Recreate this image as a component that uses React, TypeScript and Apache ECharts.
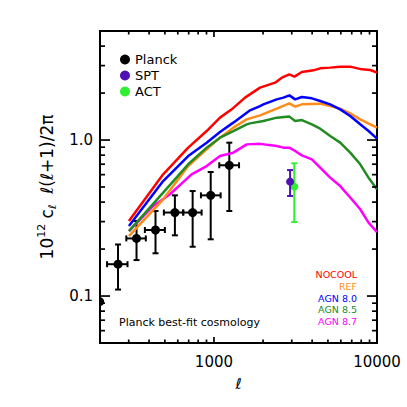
import React, { useEffect, useRef } from 'react';
import * as echarts from 'echarts';

// ---------- axis ranges and ticks ----------
const X_MIN = 200;
const X_MAX = 10000;
const Y_MIN = 0.05;
const Y_MAX = 5;
const xMajorTicks = [1000, 10000];
const xMinorTicks = [300, 400, 500, 600, 700, 800, 900, 2000, 3000, 4000, 5000, 6000, 7000, 8000, 9000];
const yMajorTicks = [0.1, 1];
const yMinorTicks = [0.06, 0.07, 0.08, 0.09, 0.2, 0.3, 0.4, 0.5, 0.6, 0.7, 0.8, 0.9, 2, 3, 4];

// ---------- model curves (legend order) ----------
const modelNames = ['NOCOOL', 'REF', 'AGN 8.0', 'AGN 8.5', 'AGN 8.7'];
const modelColors = ['#ff0000', '#ff8c1a', '#0000ff', '#228b22', '#ff00ff'];

const nocoolEll = [301, 488, 695, 902, 1089, 1285, 1551, 1917, 2371, 2607, 2902, 3116, 3460, 4077, 4482, 5163, 5946, 6850, 8086, 9097, 10000];
const nocoolVal = [0.303, 0.603, 0.894, 1.142, 1.392, 1.573, 1.87, 2.167, 2.333, 2.512, 2.637, 2.549, 2.729, 2.798, 2.882, 2.912, 2.954, 2.954, 2.839, 2.811, 2.704];

const refEll = [301, 488, 695, 902, 1089, 1314, 1589, 1917, 2428, 2902, 3146, 3460, 4482, 5163, 5946, 6850, 7889, 9097, 10000];
const refVal = [0.2425, 0.417, 0.681, 0.872, 1.036, 1.201, 1.357, 1.44, 1.589, 1.719, 1.637, 1.694, 1.711, 1.652, 1.589, 1.483, 1.357, 1.261, 1.201];

const agn80Ell = [301, 488, 695, 902, 1089, 1314, 1589, 1664, 1917, 2010, 2428, 2667, 2902, 3146, 3460, 3986, 4482, 5163, 5946, 6850, 7889, 8875, 10000];
const agn80Val = [0.281, 0.546, 0.79, 0.962, 1.125, 1.293, 1.498, 1.55, 1.652, 1.694, 1.823, 1.87, 1.934, 1.823, 1.887, 1.851, 1.778, 1.694, 1.573, 1.425, 1.261, 1.142, 1.021];

const agn85Ell = [301, 488, 695, 902, 1089, 1314, 1589, 1664, 2010, 2428, 2902, 3146, 3460, 3986, 4482, 5163, 5946, 6850, 7889, 8875, 10000];
const agn85Val = [0.261, 0.46, 0.699, 0.894, 1.036, 1.142, 1.261, 1.279, 1.324, 1.392, 1.413, 1.324, 1.343, 1.261, 1.183, 1.061, 0.962, 0.83, 0.699, 0.574, 0.483];

const agn87Ell = [301, 424, 537, 729, 902, 1089, 1314, 1589, 1917, 2428, 2667, 2902, 3146, 3460, 3986, 4482, 5163, 5946, 6850, 7889, 8875, 10000];
const agn87Val = [0.261, 0.378, 0.449, 0.603, 0.681, 0.79, 0.83, 0.938, 0.945, 0.915, 0.894, 0.894, 0.85, 0.798, 0.752, 0.665, 0.574, 0.507, 0.428, 0.36, 0.2955, 0.257];

const modelEll = [nocoolEll, refEll, agn80Ell, agn85Ell, agn87Ell];
const modelVal = [nocoolVal, refVal, agn80Val, agn85Val, agn87Val];
// drawing order (first drawn = bottom)
const drawOrder = [4, 1, 3, 2, 0];

// ---------- observations ----------
const obsNames = ['Planck', 'SPT', 'ACT'];
const obsColors = ['#000000', '#5010b4', '#30ee30'];

const planckEll = [199, 258, 335, 438, 576, 740, 955, 1242];
const planckEllLo = [199, 221, 290, 377, 493, 648, 832, 1078];
const planckEllHi = [199, 295, 382, 500, 648, 840, 1099, 1425];
const planckVal = [0.092, 0.16, 0.234, 0.265, 0.343, 0.343, 0.442, 0.689];
const planckLo = [0.092, 0.11, 0.17, 0.188, 0.245, 0.207, 0.231, 0.351];
const planckHi = [0.092, 0.214, 0.303, 0.351, 0.442, 0.471, 0.624, 0.962];

const sptEll = [2930];
const sptVal = [0.541];
const sptLo = [0.438];
const sptHi = [0.642];

const actEll = [3110];
const actVal = [0.503];
const actLo = [0.298];
const actHi = [0.709];

const noteText = 'Planck best-fit cosmology';

const FONT = 'DejaVu Sans';

function errRender(color: string, radius: number, cap: number) {
  return (_params: any, api: any) => {
    const l = api.value(0);
    const v = api.value(1);
    const lLo = api.value(2);
    const lHi = api.value(3);
    const vLo = api.value(4);
    const vHi = api.value(5);
    const c = api.coord([l, v]);
    const st = { stroke: color, lineWidth: 2 };
    const children: any[] = [];
    if (vHi !== vLo) {
      const t = api.coord([l, vHi]);
      const b = api.coord([l, vLo]);
      children.push({ type: 'line', shape: { x1: c[0], y1: t[1], x2: c[0], y2: b[1] }, style: st });
      children.push({ type: 'line', shape: { x1: c[0] - cap, y1: t[1], x2: c[0] + cap, y2: t[1] }, style: st });
      children.push({ type: 'line', shape: { x1: c[0] - cap, y1: b[1], x2: c[0] + cap, y2: b[1] }, style: st });
    }
    if (lHi !== lLo) {
      const a = api.coord([lLo, v]);
      const d = api.coord([lHi, v]);
      children.push({ type: 'line', shape: { x1: a[0], y1: c[1], x2: d[0], y2: c[1] }, style: st });
      children.push({ type: 'line', shape: { x1: a[0], y1: c[1] - cap, x2: a[0], y2: c[1] + cap }, style: st });
      children.push({ type: 'line', shape: { x1: d[0], y1: c[1] - cap, x2: d[0], y2: c[1] + cap }, style: st });
    }
    children.push({ type: 'circle', shape: { cx: c[0], cy: c[1], r: radius }, style: { fill: color } });
    return { type: 'group', children };
  };
}

function obsData(ell: number[], lo: number[] | null, hi: number[] | null, val: number[], vLo: number[], vHi: number[]) {
  return ell.map((l, i) => [l, val[i], lo ? lo[i] : l, hi ? hi[i] : l, vLo[i], vHi[i]]);
}

export default function App() {
  const ref = useRef<HTMLDivElement>(null);
  useEffect(() => {
    if (!ref.current) return;
    const chart = echarts.init(ref.current, undefined, { renderer: 'svg' });

    const lineSeries = drawOrder.map((k) => ({
      type: 'line',
      name: modelNames[k],
      data: modelEll[k].map((l, i) => [l, modelVal[k][i]]),
      showSymbol: false,
      symbol: 'none',
      clip: true,
      lineStyle: { color: modelColors[k], width: 2.5 },
      itemStyle: { color: modelColors[k] },
    }));

    const obsSeries = [
      {
        type: 'custom',
        name: obsNames[2],
        clip: true,
        itemStyle: { color: obsColors[2] },
        encode: { x: 0, y: 1 },
        renderItem: errRender(obsColors[2], 4, 3),
        data: obsData(actEll, null, null, actVal, actLo, actHi),
      },
      {
        type: 'custom',
        name: obsNames[1],
        clip: true,
        itemStyle: { color: obsColors[1] },
        encode: { x: 0, y: 1 },
        renderItem: errRender(obsColors[1], 4, 3),
        data: obsData(sptEll, null, null, sptVal, sptLo, sptHi),
      },
      {
        type: 'custom',
        name: obsNames[0],
        clip: true,
        itemStyle: { color: obsColors[0] },
        encode: { x: 0, y: 1 },
        renderItem: errRender(obsColors[0], 4.5, 3),
        data: obsData(planckEll, planckEllLo, planckEllHi, planckVal, planckLo, planckHi),
      },
    ];

    const textGraphics: any[] = [
      ...modelNames.map((n, i) => ({
        type: 'text',
        id: 'lg' + i,
        x: 357,
        y: 274.5 + i * 11.8,
        style: {
          text: n,
          fill: modelColors[i],
          font: `9.5px "${FONT}"`,
          align: 'right',
          verticalAlign: 'middle',
          textAlign: 'right',
          textVerticalAlign: 'middle',
        },
      })),
      {
        type: 'text',
        id: 'note',
        x: 119,
        y: 322.5,
        style: {
          text: noteText,
          fill: '#000',
          font: `11px "${FONT}"`,
          align: 'left',
          verticalAlign: 'middle',
          textAlign: 'left',
          textVerticalAlign: 'middle',
        },
      },
    ];

    chart.setOption({
      animation: false,
      grid: {
        left: 100,
        right: 30,
        top: 31,
        bottom: 64,
        show: true,
        borderColor: '#000',
        borderWidth: 2,
        backgroundColor: 'transparent',
      },
      legend: {
        data: obsNames.map((n) => ({ name: n, icon: 'circle' })),
        orient: 'vertical',
        left: 120,
        top: 53,
        padding: 0,
        itemWidth: 10,
        itemHeight: 10,
        itemGap: 3,
        selectedMode: false,
        textStyle: { fontFamily: FONT, fontSize: 13, color: '#000' },
      },
      xAxis: {
        type: 'log',
        logBase: 10,
        min: X_MIN,
        max: X_MAX,
        axisLine: { show: false },
        splitLine: { show: false },
        axisTick: { show: false },
        axisLabel: {
          customValues: xMajorTicks,
          formatter: (v: number) => String(Math.round(v)),
          fontFamily: FONT,
          fontSize: 15,
          color: '#000',
          margin: 11,
        },
        name: 'ℓ',
        nameLocation: 'middle',
        nameGap: 33,
        nameTextStyle: { fontFamily: FONT, fontStyle: 'italic', fontSize: 15, color: '#000' },
      },
      yAxis: {
        type: 'log',
        logBase: 10,
        min: Y_MIN,
        max: Y_MAX,
        axisLine: { show: false },
        splitLine: { show: false },
        axisTick: { show: false },
        axisLabel: {
          customValues: yMajorTicks,
          formatter: (v: number) => v.toFixed(1),
          fontFamily: FONT,
          fontSize: 15,
          color: '#000',
          margin: 7,
        },
        name: '{n|10}{sup|12} {n|c}{sub|ℓ}  {n|ℓ(ℓ+1)/2π}',
        nameLocation: 'middle',
        nameRotate: 90,
        nameGap: 39,
        nameTextStyle: {
          fontFamily: FONT,
          fontSize: 17,
          color: '#000',
          rich: {
            n: { fontFamily: FONT, fontSize: 17, lineHeight: 22, color: '#000' },
            sup: { fontFamily: FONT, fontSize: 11, lineHeight: 12, verticalAlign: 'top', color: '#000' },
            sub: { fontFamily: FONT, fontSize: 11, lineHeight: 12, verticalAlign: 'bottom', color: '#000' },
          },
        },
      },
      graphic: textGraphics,
      series: [...lineSeries, ...obsSeries],
    });

    // Frame ticks: positions converted through the chart's own axis scales.
    const finder = { xAxisIndex: 0, yAxisIndex: 0 };
    const toPx = (p: number[]) => chart.convertToPixel(finder as any, p) as unknown as number[];
    const bl = toPx([X_MIN, Y_MIN]);
    const tr = toPx([X_MAX, Y_MAX]);
    const tickEls: any[] = [];
    const add = (x1: number, y1: number, x2: number, y2: number) =>
      tickEls.push({
        type: 'line',
        id: 'tk' + tickEls.length,
        z: 100,
        shape: { x1, y1, x2, y2 },
        style: { stroke: '#000', lineWidth: 1.7 },
      });
    if (bl && tr) {
      const xs: [number, number][] = [
        ...xMajorTicks.map((v) => [v, 6] as [number, number]),
        ...xMinorTicks.map((v) => [v, 3.5] as [number, number]),
      ];
      const ys: [number, number][] = [
        ...yMajorTicks.map((v) => [v, 10] as [number, number]),
        ...yMinorTicks.map((v) => [v, 5] as [number, number]),
      ];
      xs.forEach(([v, len]) => {
        const px = toPx([v, 1])[0];
        add(px, bl[1], px, bl[1] - len);
        add(px, tr[1], px, tr[1] + len);
      });
      ys.forEach(([v, len]) => {
        const py = toPx([1000, v])[1];
        add(bl[0], py, bl[0] + len, py);
        add(tr[0], py, tr[0] - len, py);
      });
      chart.setOption({ graphic: [...textGraphics, ...tickEls] });
    }
    return () => chart.dispose();
  }, []);
  return <div ref={ref} style={{ position: 'absolute', left: 0, top: 0, width: 407, height: 407, background: '#fff' }} />;
}
